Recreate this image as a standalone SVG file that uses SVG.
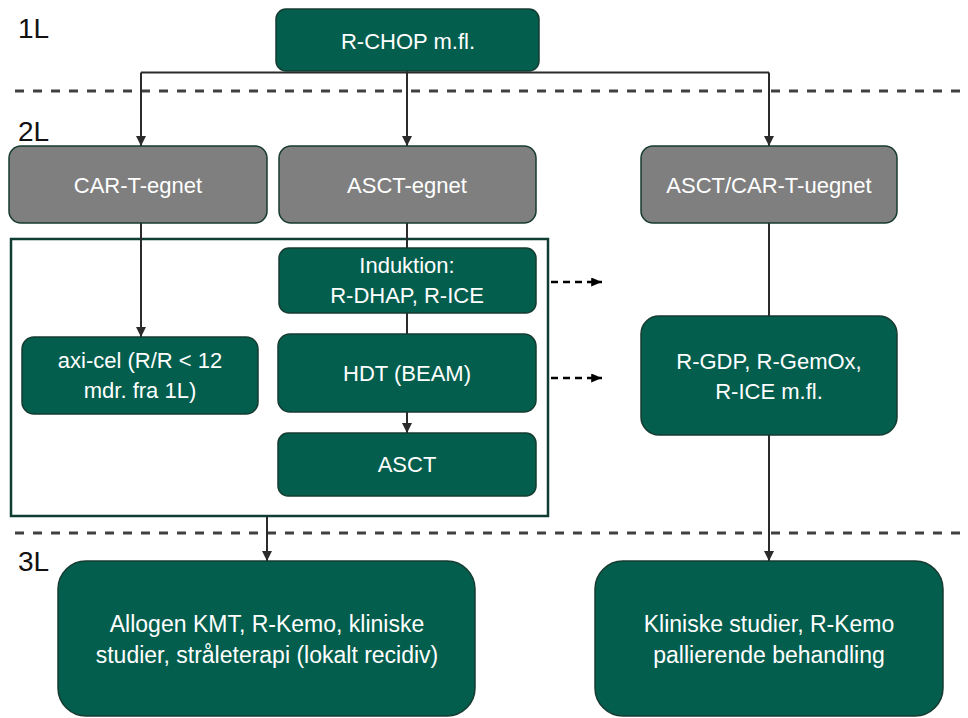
<svg xmlns="http://www.w3.org/2000/svg" width="968" height="718" viewBox="0 0 968 718">
  <defs>
    <style>
      .green { fill: #035E4E; stroke: #163B31; stroke-width: 1.5; }
      .gray { fill: #7F7F7F; stroke: #163B31; stroke-width: 1.5; }
      .lbl { font-family: "Liberation Sans", Arial, sans-serif; font-size: 22px; fill: #FFFFFF; text-anchor: middle; }
      .big { font-size: 23px; }
      .level { font-family: "Liberation Sans", Arial, sans-serif; font-size: 28px; fill: #111111; }
      .wire { fill: none; stroke: #2B2B2B; stroke-width: 2; }
      .divider { fill: none; stroke: #404040; stroke-width: 3; stroke-dasharray: 9 9; }
      .hint { fill: none; stroke: #000000; stroke-width: 2.5; stroke-dasharray: 7 5; }
    </style>
    <marker id="arrow" viewBox="0 0 10 10" refX="10" refY="5" markerWidth="10" markerHeight="10" markerUnits="userSpaceOnUse" orient="auto">
      <path d="M0,0 L10,5 L0,10 z" fill="#2B2B2B"/>
    </marker>
    <marker id="arrowDash" viewBox="0 0 12 10" refX="12" refY="5" markerWidth="12" markerHeight="9" markerUnits="userSpaceOnUse" orient="auto">
      <path d="M0,0 L12,5 L0,10 z" fill="#000000"/>
    </marker>
  </defs>

  <!-- treatment line labels and separators -->
  <g id="levels">
    <text class="level" x="18" y="38">1L</text>
    <text class="level" x="18" y="141">2L</text>
    <text class="level" x="18" y="571">3L</text>
    <path class="divider" d="M15,91 H968"/>
    <path class="divider" d="M15,533 H968"/>
  </g>

  <!-- frame around the CAR-T / ASCT pathway -->
  <rect id="pathway-frame" x="11" y="239" width="537" height="277" fill="none" stroke="#0F3D31" stroke-width="2.5"/>

  <g id="connectors">
    <path class="wire" d="M141,72.5 H769"/>
    <path class="wire" d="M141,72.5 V146" marker-end="url(#arrow)"/>
    <path class="wire" d="M407,71 V146" marker-end="url(#arrow)"/>
    <path class="wire" d="M769,72.5 V146" marker-end="url(#arrow)"/>
    <path class="wire" d="M141,223 V337" marker-end="url(#arrow)"/>
    <path class="wire" d="M407,223 V248"/>
    <path class="wire" d="M407,313 V334"/>
    <path class="wire" d="M407,412 V433" marker-end="url(#arrow)"/>
    <path class="wire" d="M769,223 V316"/>
    <path class="wire" d="M769,435 V561" marker-end="url(#arrow)"/>
    <path class="wire" d="M267,516 V561" marker-end="url(#arrow)"/>
    <path class="hint" d="M551,282 H602" marker-end="url(#arrowDash)"/>
    <path class="hint" d="M551,378 H602" marker-end="url(#arrowDash)"/>
  </g>

  <g id="rchop">
    <rect class="green" x="276" y="9" width="263" height="62" rx="10"/>
    <text class="lbl" x="408" y="49">R-CHOP m.fl.</text>
  </g>

  <g id="cart-egnet">
    <rect class="gray" x="9" y="146" width="258" height="77" rx="12"/>
    <text class="lbl" x="138" y="193">CAR-T-egnet</text>
  </g>

  <g id="asct-egnet">
    <rect class="gray" x="279" y="146" width="257" height="77" rx="12"/>
    <text class="lbl" x="407" y="193">ASCT-egnet</text>
  </g>

  <g id="uegnet">
    <rect class="gray" x="641" y="146" width="256" height="77" rx="12"/>
    <text class="lbl" x="769" y="193">ASCT/CAR-T-uegnet</text>
  </g>

  <g id="axicel">
    <rect class="green" x="22" y="337" width="236" height="77" rx="12"/>
    <text class="lbl" x="140" y="368">axi-cel (R/R &lt; 12</text>
    <text class="lbl" x="140" y="398">mdr. fra 1L)</text>
  </g>

  <g id="induktion">
    <rect class="green" x="279" y="248" width="257" height="65" rx="10"/>
    <text class="lbl" x="407" y="273">Induktion:</text>
    <text class="lbl" x="407" y="303">R-DHAP, R-ICE</text>
  </g>

  <g id="hdt">
    <rect class="green" x="278" y="334" width="258" height="78" rx="12"/>
    <text class="lbl" x="407" y="381">HDT (BEAM)</text>
  </g>

  <g id="asct">
    <rect class="green" x="278" y="433" width="258" height="63" rx="10"/>
    <text class="lbl" x="407" y="472">ASCT</text>
  </g>

  <g id="salvage">
    <rect class="green" x="641" y="316" width="256" height="119" rx="18"/>
    <text class="lbl" x="769" y="369">R-GDP, R-GemOx,</text>
    <text class="lbl" x="769" y="399">R-ICE m.fl.</text>
  </g>

  <g id="allogen">
    <rect class="green" x="58" y="561" width="417" height="155" rx="28"/>
    <text class="lbl big" x="267" y="632">Allogen KMT, R-Kemo, kliniske</text>
    <text class="lbl big" x="267" y="663">studier, stråleterapi (lokalt recidiv)</text>
  </g>

  <g id="kliniske">
    <rect class="green" x="595" y="561" width="348" height="155" rx="28"/>
    <text class="lbl big" x="769" y="632">Kliniske studier, R-Kemo</text>
    <text class="lbl big" x="769" y="663">pallierende behandling</text>
  </g>
</svg>
